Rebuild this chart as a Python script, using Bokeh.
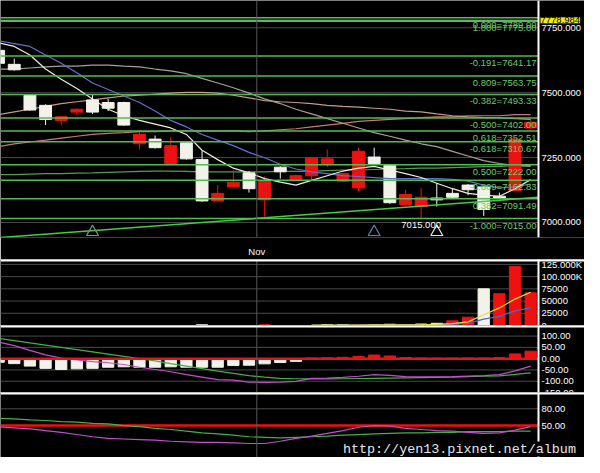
import numpy as np
from bokeh.plotting import figure
from bokeh.layouts import column
from bokeh.models import Range1d, FixedTicker, Span, Label, ColumnDataSource
from bokeh.core.properties import value
from bokeh.embed import file_html
from bokeh.resources import INLINE

# ---------------- data ----------------
month_break = 16.5
month_name = "Nov"
idx = list(range(35))

opens = [7663, 7609, 7490, 7451, 7393, 7425, 7472, 7462, 7462, 7303, 7321, 7224, 7307, 7242, 7083, 7137, 7191, 7087,
         7213, 7166, 7180, 7224, 7159, 7133, 7252, 7220, 7069, 7061, 7094, 7112, 7144, 7137, 7101, 7123, 7364]
highs = [7670, 7631, 7494, 7455, 7410, 7440, 7494, 7476, 7465, 7350, 7335, 7328, 7310, 7278, 7144, 7202, 7198, 7177,
         7216, 7184, 7252, 7281, 7191, 7288, 7288, 7224, 7126, 7133, 7151, 7133, 7148, 7140, 7115, 7325, 7395]
lows = [7605, 7585, 7430, 7375, 7375, 7415, 7418, 7429, 7372, 7281, 7285, 7220, 7242, 7080, 7080, 7134, 7115, 7022,
        7169, 7162, 7162, 7213, 7155, 7119, 7224, 7072, 7065, 7015, 7061, 7094, 7105, 7025, 7092, 7119, 7360]
closes = [7613, 7588, 7433, 7397, 7407, 7436, 7425, 7440, 7375, 7339, 7288, 7296, 7245, 7083, 7112, 7155, 7130, 7162,
          7195, 7180, 7249, 7245, 7188, 7274, 7227, 7076, 7108, 7097, 7087, 7097, 7126, 7050, 7094, 7321, 7386]

ma5 = [7692, 7678, 7645, 7591, 7552, 7516, 7476, 7436, 7411, 7393, 7379, 7364, 7339, 7278, 7242, 7209, 7191, 7169,
       7155, 7144, 7162, 7180, 7198, 7209, 7216, 7202, 7188, 7173, 7151, 7130, 7112, 7105, 7101, 7130, 7165]
ma10 = [7700, 7689, 7678, 7645, 7613, 7577, 7537, 7512, 7487, 7462, 7429, 7393, 7368, 7339, 7317, 7296, 7270, 7249,
        7224, 7206, 7195, 7188, 7180, 7177, 7173, 7169, 7169, 7169, 7169, 7166, 7159, 7144, 7133, 7137, 7148]
ma20 = [7591, 7591, 7595, 7599, 7602, 7602, 7606, 7606, 7602, 7599, 7591, 7584, 7573, 7555, 7537, 7519, 7498, 7476,
        7458, 7436, 7418, 7400, 7382, 7364, 7346, 7332, 7317, 7303, 7292, 7274, 7256, 7238, 7227, 7220, 7216]
ma60 = [7415, 7426, 7436, 7447, 7458, 7465, 7472, 7480, 7487, 7490, 7494, 7498, 7501, 7501, 7498, 7490, 7480, 7469,
        7465, 7462, 7458, 7451, 7447, 7444, 7440, 7436, 7429, 7426, 7418, 7411, 7407, 7404, 7404, 7400, 7397]
ma120 = [7292, 7303, 7310, 7317, 7325, 7332, 7339, 7343, 7346, 7350, 7350, 7353, 7353, 7353, 7353, 7353, 7350, 7353,
         7357, 7361, 7368, 7375, 7382, 7389, 7393, 7397, 7400, 7404, 7407, 7407, 7411, 7411, 7411, 7415, 7415]
ma240 = [7184, 7184, 7186, 7188, 7188, 7190, 7191, 7193, 7195, 7197, 7198, 7198, 7197, 7195, 7195, 7195, 7195, 7195,
         7197, 7197, 7198, 7200, 7202, 7202, 7204, 7206, 7207, 7209, 7209, 7211, 7213, 7215, 7216, 7218, 7220]

fib_levels = [7789.00, 7775.00, 7641.17, 7563.75, 7493.33, 7402.00, 7352.51, 7310.67, 7222.00, 7162.83, 7091.49, 7015.00]
fib_labels = ["0.000=7789.00", "1.000=7775.00", "-0.191=7641.17", "0.809=7563.75", "-0.382=7493.33",
              "-0.500=7402.00", "0.618=7352.51", "-0.618=7310.67", "0.500=7222.00", "-0.809=7162.83",
              "0.382=7091.49", "-1.000=7015.00"]
cursor_price = 7778.984
trend_x = [0.12, 34.5]
trend_y = [6942, 7097]
tri_idx = [6, 24, 28]
tri_price = [6963, 6963, 6963]
tri_colors = ["#8a8a8a", "#6a78b0", "#e6e6e6"]
low_idx = 27
low_price = 7015.0

price_ticks = [7000, 7250, 7500, 7750]
price_tick_labels = [f"{t:.3f}" for t in price_ticks]

volume = [0, 0, 0, 0, 0, 0, 0, 0, 0, 0, 0, 0, 0, 1500, 0, 0, 0, 1500, 0, 0,
          0, 1500, 1500, 800, 800, 2500, 1000, 3000, 4500, 9500, 17000, 75000, 65000, 121000, 67000]
vol_ma_idx = list(range(20, 35))
vol_ma5 = [600, 800, 900, 1000, 1100, 1300, 1400, 1800, 2300, 4000, 7500, 22000, 36000, 54000, 68000]
vol_ma10 = [400, 500, 600, 700, 800, 1000, 1100, 1300, 1600, 2500, 4500, 13000, 18500, 30000, 36000]
vol_ticks = [0, 25000, 50000, 75000, 100000, 125000]
vol_tick_labels = ["0", "25000", "50000", "75000", "100.000K", "125.000K"]

macd_hist = [-16, -22, -33, -43, -48, -45, -43, -38, -36, -38, -38, -36, -38, -38, -38, -30, -29, -23, -17, -12,
             3, 4, 6, 10, 16, 12, 5, 3, 2, 2, 3, 3, 5, 21, 33]
macd_signal = [90, 80, 70, 60, 50, 40, 30, 20, 10, 0, -10, -22, -33, -44, -55, -65, -75, -82, -87, -89,
               -90, -90, -89, -88, -87, -86, -85, -84, -83, -82, -80, -78, -76, -70, -63]
macd_dif = [74, 58, 37, 17, 2, -5, -13, -18, -26, -38, -48, -58, -71, -82, -93, -95, -104, -105, -104, -101,
            -87, -86, -83, -78, -71, -74, -80, -81, -81, -80, -77, -75, -71, -54, -33]
macd_ticks = [-150, -100, -50, 0, 50, 100]
macd_tick_labels = [f"{t:.2f}" for t in macd_ticks]

rsi_green = [63, 62, 60, 59, 57, 56, 54, 53, 50, 48, 45, 43, 40, 37, 35, 33, 30, 29, 28, 29,
             30, 31, 33, 34, 35, 36, 37, 37, 38, 38, 39, 39, 39, 40, 40]
rsi_magenta = [48, 46, 44, 41, 38, 34, 30, 27, 26, 25, 24, 22, 21, 20, 20, 19, 18, 18, 22, 27,
               31, 36, 41, 47, 50, 49, 45, 43, 41, 40, 38, 36, 37, 42, 48]
rsi_ticks = [50, 80]
rsi_tick_labels = [f"{t:.2f}" for t in rsi_ticks]

watermark = "http://yen13.pixnet.net/album"

# ---------------- styling helpers ----------------
FONT = "Liberation Sans"
FS = "9.5px"
W = 584
RED = "#ee1111"
WHITE = "#f2f2ea"
AXIS_X = 34.5                      # price-scale line sits right after the last bar slot
x_rng = Range1d(0.12, 37.44)       # frame runs under the scale labels as well


def base_fig(height, y_range, ticks, tick_labels, grid_ticks, xaxis=False):
    p = figure(width=W, height=height, x_range=x_rng, y_range=y_range,
               output_backend="svg", toolbar_location=None,
               x_axis_location="below" if xaxis else None, y_axis_location=None,
               min_border_left=0, min_border_right=0, min_border_top=0,
               min_border_bottom=15 if xaxis else 0)
    p.background_fill_color = "black"
    p.border_fill_color = "black"
    p.outline_line_color = None
    p.xgrid.visible = False
    p.ygrid.visible = False
    n = len(grid_ticks)
    if n:
        p.segment(x0=[x_rng.start] * n, y0=grid_ticks, x1=[AXIS_X] * n, y1=grid_ticks,
                  line_color="#4a4a4a", line_width=1)
    p.add_layout(Span(location=month_break, dimension="height", line_color="#5a5a5a", line_width=1))
    p.add_layout(Span(location=AXIS_X, dimension="height", line_color="white", line_width=2))
    p.text(x=[AXIS_X] * len(ticks), y=ticks, text=tick_labels, x_offset=3, text_align="left",
           text_baseline="middle", text_color="white", text_font=value(FONT), text_font_size=FS)
    return p


# ---------------- main price panel ----------------
p = base_fig(259, Range1d(6942, 7855), price_ticks, price_tick_labels, price_ticks, xaxis=True)
xa = p.xaxis[0]
xa.ticker = FixedTicker(ticks=[month_break])
xa.major_label_overrides = {month_break: month_name}
xa.axis_line_color = None
xa.major_tick_line_color = None
xa.minor_tick_line_color = None
xa.major_label_standoff = 2
xa.major_label_text_color = "white"
xa.major_label_text_font = FONT
xa.major_label_text_font_size = FS

o = np.array(opens); c = np.array(closes)
cols = [RED if cc >= oo else WHITE for oo, cc in zip(opens, closes)]
src = ColumnDataSource(dict(x=idx, h=highs, l=lows, top=np.maximum(o, c), bot=np.minimum(o, c), col=cols))

p.line(idx, ma240, line_color="#4f9f4f", line_width=1.2)
p.line(idx, ma120, line_color="#c87878", line_width=1.2)
p.line(idx, ma60, line_color="#c89a88", line_width=1.2)
p.line(idx, ma20, line_color="#aaa28e", line_width=1.2)

p.segment(x0="x", y0="l", x1="x", y1="h", line_color="col", line_width=1, source=src)
p.vbar(x="x", width=0.76, top="top", bottom="bot", fill_color="col", line_color="col", source=src)

p.line(idx, ma10, line_color="#6070d0", line_width=1.2)
p.line(idx, ma5, line_color="#f0f0d8", line_width=1.2)

nf = len(fib_levels)
p.segment(x0=[x_rng.start] * nf, y0=fib_levels, x1=[AXIS_X] * nf, y1=fib_levels,
          line_color="#4fbf4f", line_width=1.5)
p.segment(x0=[x_rng.start], y0=[cursor_price], x1=[AXIS_X], y1=[cursor_price],
          line_color="#7fd07f", line_width=1)
p.line(trend_x, trend_y, line_color="#44cc44", line_width=1.5)

p.text(x=[AXIS_X] * nf, y=fib_levels, text=fib_labels, text_align="right",
       text_baseline="top", x_offset=-2, y_offset=1, text_color="#66cc66",
       text_font=value(FONT), text_font_size=FS)

p.scatter(x=tri_idx, y=tri_price, marker="triangle", size=12, fill_color=None,
          line_color=tri_colors, line_width=1.2)
p.text(x=[low_idx], y=[low_price], text=[f"{low_price:.3f}"], text_align="center", text_baseline="top",
       y_offset=3, text_color="white", text_font=value(FONT), text_font_size=FS)

p.add_layout(Label(x=AXIS_X, y=cursor_price, x_offset=2, text=f"{cursor_price:.3f}",
                   text_baseline="middle", text_color="black", text_font=FONT, text_font_size=FS,
                   background_fill_color="#f0f000"))

# ---------------- volume panel ----------------
vol_rng = Range1d(0, 135000)
pv = base_fig(66, vol_rng, vol_ticks, vol_tick_labels, vol_ticks[1:])
vcols = [RED if (i == 0 and closes[i] >= opens[i]) or (i > 0 and closes[i] >= closes[i - 1]) else WHITE
         for i in idx]
pv.vbar(x=idx, top=volume, bottom=0, width=0.72, fill_color=vcols, line_color=vcols)
pv.line(vol_ma_idx, vol_ma10, line_color="#4a6ad0", line_width=1.2)
pv.line(vol_ma_idx, vol_ma5, line_color="#e8e040", line_width=1.2)
pv.add_layout(Span(location=vol_rng.end, dimension="width", line_color="white", line_width=4))

# ---------------- MACD panel ----------------
macd_rng = Range1d(-150, 147)
pm = base_fig(67, macd_rng, macd_ticks, macd_tick_labels, [-100, -50, 50, 100])
hcols = [RED if v >= 0 else WHITE for v in macd_hist]
pm.vbar(x=idx, top=macd_hist, bottom=0, width=0.72, fill_color=hcols, line_color=hcols)
pm.line(idx, macd_signal, line_color="#44b044", line_width=1.2)
pm.line(idx, macd_dif, line_color="#c050c8", line_width=1.2)
pm.segment(x0=[x_rng.start], y0=[0], x1=[AXIS_X], y1=[0], line_color=RED, line_width=2.5)
pm.add_layout(Span(location=macd_rng.end, dimension="width", line_color="white", line_width=4))

# ---------------- RSI panel ----------------
rsi_rng = Range1d(-7, 109)
pr = base_fig(65, rsi_rng, rsi_ticks, rsi_tick_labels, [80])
pr.segment(x0=[x_rng.start], y0=[50], x1=[AXIS_X], y1=[50], line_color=RED, line_width=2.5)
pr.line(idx, rsi_green, line_color="#44b044", line_width=1.2)
pr.line(idx, rsi_magenta, line_color="#c050c8", line_width=1.2)
pr.add_layout(Span(location=rsi_rng.end, dimension="width", line_color="white", line_width=4))
pr.add_layout(Label(x=22.0, y=8, text=watermark, text_font="Liberation Mono", text_font_size="13.4px",
                    text_color="#e8e8e8", text_baseline="middle", background_fill_color="black"))

layout = column(p, pv, pm, pr, spacing=0)
open("out.html", "w").write(file_html(layout, INLINE))
